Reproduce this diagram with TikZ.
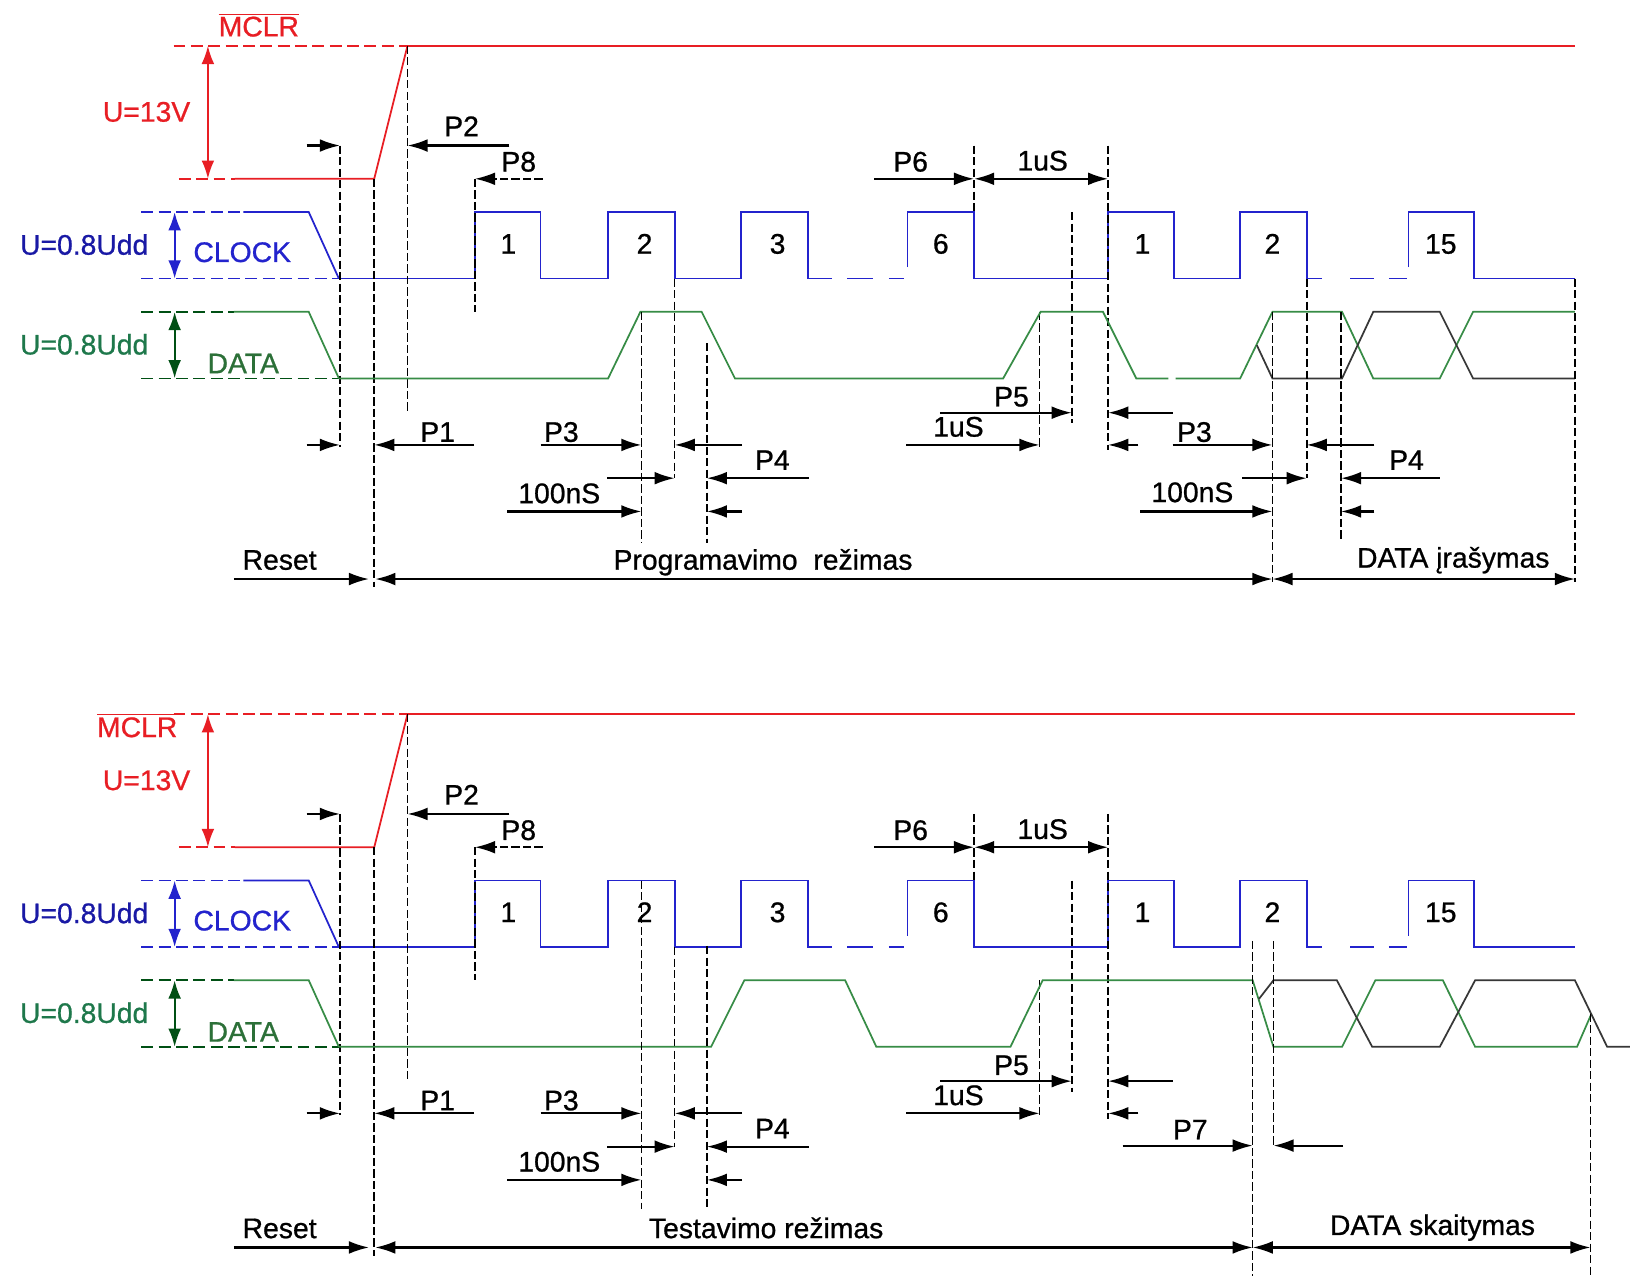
\documentclass[tikz,border=0pt]{standalone}
\usepackage{fontspec}
\setmainfont{Liberation Sans}[RawFeature={embolden=0.8}]
\usetikzlibrary{arrows.meta}
\definecolor{mclrred}{RGB}{232,30,36}
\definecolor{clkblue}{RGB}{35,35,205}
\definecolor{clktext}{RGB}{25,25,165}
\definecolor{datgreen}{RGB}{55,140,70}
\definecolor{datarrow}{RGB}{0,80,20}
\definecolor{dattext}{RGB}{30,120,75}
\definecolor{datgray}{RGB}{55,55,55}
\tikzset{
  sig/.style={line width=0.95pt},
  lvl/.style={line width=0.95pt,dash pattern=on 6.5pt off 3pt},
  guide/.style={black,line width=0.9pt,dash pattern=on 4.5pt off 1.8pt},
  tmark/.style={black,line width=1.15pt,-{Latex[length=11pt,width=7pt]}},
  tspan/.style={black,line width=1.15pt,{Latex[length=11pt,width=7pt]}-{Latex[length=11pt,width=7pt]}},
  vspan/.style={line width=1.15pt,{Latex[length=10pt,width=7pt]}-{Latex[length=10pt,width=7pt]}},
  lbl/.style={anchor=base,inner sep=0pt,font=\fontsize{15.5}{17}\selectfont},
}
\begin{document}
\begin{tikzpicture}[x=0.02cm,y=-0.02cm]
\useasboundingbox[fill=white] (0,0) rectangle (1568,1227);
% parts shared by both diagrams
\foreach \oy in {0,643}{
\begin{scope}[shift={(0,\oy)}]
  \draw[lvl,mclrred] (167,44) -- (392,44);
  \draw[sig,mclrred] (392,44) -- (1515,44);
  \draw[lvl,mclrred] (172,172) -- (226,172);
  \draw[sig,mclrred] (226,172) -- (360,172) -- (392,44);
  \draw[vspan,mclrred] (200,44) -- (200,172);
  \node[lbl,mclrred] (u13-\oy) at (141,117) {U=13V};
  % clock
  \draw[lvl,clkblue] (136,204) -- (234,204);
  \draw[lvl,clkblue] (136,268) -- (326,268);
  \draw[sig,clkblue] (234,204) -- (297,204) -- (326,268);
  \draw[vspan,clkblue] (168,204) -- (168,268);
  \node[lbl,clktext] (uclk-\oy) at (81,245) {U=0.8Udd};
  \node[lbl,clkblue] (clk-\oy) at (233,252) {CLOCK};
  \draw[sig,clkblue] (326,268) -- (457,268) -- (457,204) -- (520,204) -- (520,268) -- (585,268) -- (585,204) -- (649,204) -- (649,268) -- (713,268) -- (713,204) -- (777,204) -- (777,268) -- (800,268);
  \draw[sig,clkblue] (815,268) -- (840,268) (855,268) -- (870,268);
  \draw[sig,clkblue] (873,257) -- (873,204) -- (937,204) -- (937,268) -- (1066,268) -- (1066,204) -- (1129,204) -- (1129,268) -- (1193,268) -- (1193,204) -- (1257,204) -- (1257,268) -- (1272,268);
  \draw[sig,clkblue] (1299,268) -- (1322,268) (1336,268) -- (1353,268);
  \draw[sig,clkblue] (1355,257) -- (1355,204) -- (1418,204) -- (1418,268) -- (1515,268);
  \foreach \cx/\cn [count=\ci] in {489/1,620/2,748/3,905/6,1099/1,1224/2,1386/15}
    \node[lbl] (n\ci-\oy) at (\cx,244) {\cn};
  % data
  \draw[lvl,datarrow] (136,300) -- (225,300);
  \draw[lvl,datarrow] (136,364) -- (326,364);
  \draw[sig,datgreen] (225,300) -- (297,300) -- (326,364);
  \draw[vspan,datarrow] (168,300) -- (168,364);
  \node[lbl,dattext] (udat-\oy) at (81,341) {U=0.8Udd};
  \node[lbl,datgreen!80!black] (dat-\oy) at (234,359) {DATA};
  % guides
  \draw[guide] (327,140) -- (327,430);
  \draw[guide] (360,172) -- (360,565);
  \draw[guide] (392,44) -- (392,397);
  \draw[guide] (457,172) -- (457,300);
  \draw[guide] (649,268) -- (649,460);
  \draw[guide] (937,140) -- (937,204);
  \draw[guide] (1066,140) -- (1066,433);
  \draw[guide] (1031,204) -- (1031,407);
  \draw[guide] (1000,300) -- (1000,430);
  % timing marks
  \draw[tmark] (295,140) -- (327,140);
  \draw[tmark] (295,428) -- (327,428);
  \draw[tmark] (490,140) -- (392,140);
  \node[lbl] (p2-\oy) at (444,131) {P2};
  \draw[guide,-{Latex[length=11pt,width=7pt]}] (522,172) -- (457,172);
  \node[lbl] (p8-\oy) at (499,165) {P8};
  \draw[tmark] (456,428) -- (360,428);
  \node[lbl] (p1-\oy) at (421,425) {P1};
  \draw[tmark] (520,428) -- (617,428);
  \node[lbl] (p3-\oy) at (540,425) {P3};
  \draw[tmark] (714,428) -- (649,428);
  \draw[tmark] (584,460) -- (649,460);
  \draw[tmark] (488,492) -- (617,492);
  \node[lbl] (ns-\oy) at (538,484) {100nS};
  \draw[tmark] (778,460) -- (680,460);
  \draw[tmark] (714,492) -- (680,492);
  \node[lbl] (p4-\oy) at (743,452) {P4};
  \draw[tmark] (841,172) -- (937,172);
  \node[lbl] (p6-\oy) at (876,165) {P6};
  \draw[tspan] (937,172) -- (1066,172);
  \node[lbl] (us-\oy) at (1003,164) {1uS};
  \draw[tmark] (904,397) -- (1031,397);
  \node[lbl] (p5-\oy) at (973,391) {P5};
  \draw[tmark] (872,428) -- (1000,428);
  \node[lbl] (usb-\oy) at (922,420) {1uS};
  \draw[tmark] (1128,397) -- (1066,397);
  \draw[tmark] (1095,428) -- (1066,428);
  \draw[tmark] (225,557) -- (355,557);
  \node[lbl] (rst-\oy) at (269,548) {Reset};
\end{scope}}
% upper diagram
\node[lbl,mclrred] (mclr1) at (249,35) {$\overline{\mbox{MCLR}}$};
\draw[sig,datgreen] (326,364) -- (585,364) -- (616,300) -- (675,300) -- (707,364) -- (965,364) -- (1001,300) -- (1061,300) -- (1093,364) -- (1124,364);
\draw[sig,datgreen] (1131,364) -- (1193,364) -- (1224,300) -- (1291,300) -- (1321,364) -- (1385,364) -- (1417,300) -- (1515,300);
\draw[sig,datgray] (1209,332) -- (1224,364) -- (1291,364) -- (1321,300) -- (1385,300) -- (1417,364) -- (1515,364);
\draw[guide] (617,300) -- (617,522);
\draw[guide] (680,330) -- (680,522);
\draw[guide] (1224,300) -- (1224,560);
\draw[guide] (1257,268) -- (1257,460);
\draw[guide] (1290,300) -- (1290,520);
\draw[guide] (1515,268) -- (1515,560);
\draw[tmark] (1128,428) -- (1224,428);
\node[lbl] (p3r) at (1149,425) {P3};
\draw[tmark] (1322,428) -- (1257,428);
\draw[tmark] (1195,460) -- (1257,460);
\draw[tmark] (1097,492) -- (1224,492);
\node[lbl] (nsr) at (1147,483) {100nS};
\draw[tmark] (1385,460) -- (1290,460);
\draw[tmark] (1322,492) -- (1290,492);
\node[lbl] (p4r) at (1353,452) {P4};
\draw[tspan] (361,557) -- (1224,557);
\node[lbl] (prog) at (734,548) {Programavimo\ \ režimas};
\draw[tspan] (1224,557) -- (1515,557);
\node[lbl] (wr) at (1398,546) {DATA įrašymas};
% lower diagram
\node[lbl,mclrred] (mclr2) at (132,709) {$\overline{\mbox{MCLR}}$};
\draw[sig,datgreen] (326,1007) -- (684,1007) -- (716,943) -- (813,943) -- (843,1007) -- (972,1007) -- (1003,943) -- (1205,943) -- (1225,1007) -- (1291,1007) -- (1323,943) -- (1388,943) -- (1419,1007) -- (1517,1007) -- (1531,975);
\draw[sig,datgray] (1211,961) -- (1225,943) -- (1286,943) -- (1320,1007) -- (1385,1007) -- (1419,943) -- (1515,943) -- (1546,1007) -- (1568,1007);
\draw[guide] (617,847) -- (617,1163);
\draw[guide] (680,910) -- (680,1163);
\draw[guide] (1205,905) -- (1205,1227);
\draw[guide] (1225,905) -- (1225,1103);
\draw[guide] (1530,975) -- (1530,1227);
\draw[tmark] (1080,1102) -- (1205,1102);
\node[lbl] (p7) at (1145,1096) {P7};
\draw[tmark] (1292,1102) -- (1225,1102);
\draw[tspan] (361,1200) -- (1205,1200);
\node[lbl] (test) at (737,1191) {Testavimo režimas};
\draw[tspan] (1205,1200) -- (1530,1200);
\node[lbl] (rd) at (1378,1188) {DATA skaitymas};
\end{tikzpicture}
\end{document}
